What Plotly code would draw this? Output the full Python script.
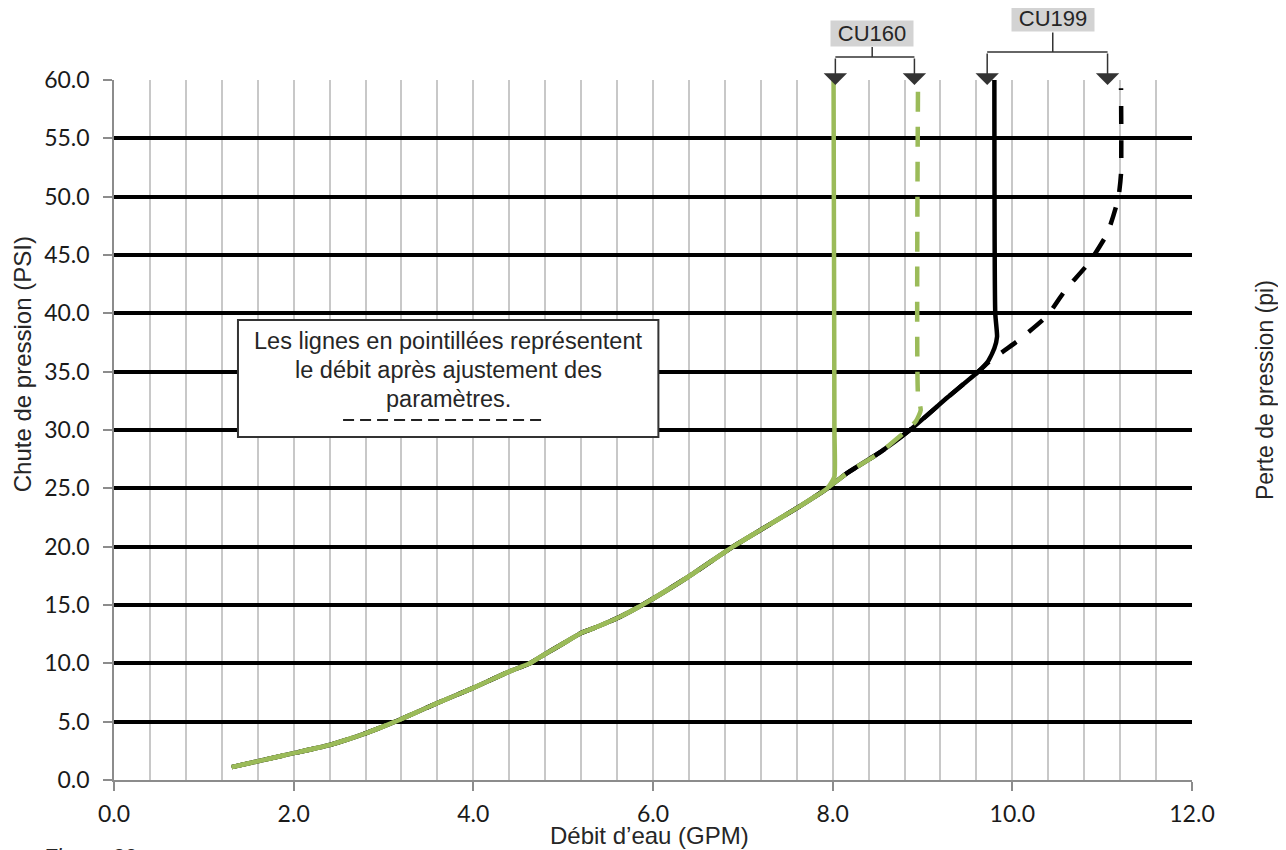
import plotly.graph_objects as go

# CU160, débit normal (trait plein vert)
cu160_x = [1.31, 2.0, 2.4, 2.8, 3.13, 3.6, 4.0, 4.4, 4.63, 4.8, 5.0, 5.2, 5.4, 5.61, 5.88,
           6.39, 6.89, 7.19, 7.6, 7.94, 7.97, 8.02, 8.02, 8.01]
cu160_y = [1.1, 2.3, 3.0, 4.0, 5.0, 6.6, 7.9, 9.3, 10.0, 10.8, 11.7, 12.6, 13.2, 13.9, 15.0,
           17.4, 20.0, 21.4, 23.3, 25.0, 25.3, 26.0, 30.0, 60.0]

# CU160, après ajustement (tirets verts)
cu160_adj_x = [1.31, 2.0, 2.4, 2.8, 3.13, 3.6, 4.0, 4.4, 4.63, 4.8, 5.0, 5.2, 5.4, 5.61, 5.88,
               6.39, 6.89, 7.19, 7.6, 7.94, 8.16, 8.53, 8.83, 8.93, 8.98, 8.95, 8.95]
cu160_adj_y = [1.1, 2.3, 3.0, 4.0, 5.0, 6.6, 7.9, 9.3, 10.0, 10.8, 11.7, 12.6, 13.2, 13.9, 15.0,
               17.4, 20.0, 21.4, 23.3, 25.0, 26.3, 28.1, 30.0, 30.8, 31.7, 33.0, 59.8]

# CU199, débit normal (trait plein noir)
cu199_x = [1.31, 2.0, 2.4, 2.8, 3.13, 3.6, 4.0, 4.4, 4.63, 4.8, 5.0, 5.2, 5.4, 5.61, 5.88,
           6.39, 6.89, 7.19, 7.6, 7.94, 8.16, 8.53, 8.86, 9.28, 9.62, 9.73, 9.80, 9.83, 9.81, 9.80]
cu199_y = [1.1, 2.3, 3.0, 4.0, 5.0, 6.6, 7.9, 9.3, 10.0, 10.8, 11.7, 12.6, 13.2, 13.9, 15.0,
           17.4, 20.0, 21.4, 23.3, 25.0, 26.3, 28.1, 30.0, 32.8, 35.0, 35.9, 37.0, 38.0, 40.0, 60.0]

# CU199, après ajustement (tirets noirs)
cu199_adj_x = [1.31, 2.0, 2.4, 2.8, 3.13, 3.6, 4.0, 4.4, 4.63, 4.8, 5.0, 5.2, 5.4, 5.61, 5.88,
               6.39, 6.89, 7.19, 7.6, 7.94, 8.16, 8.53, 8.86, 9.28, 9.62, 9.75, 10.07, 10.39,
               10.59, 10.85, 11.06, 11.18, 11.21, 11.21]
cu199_adj_y = [1.1, 2.3, 3.0, 4.0, 5.0, 6.6, 7.9, 9.3, 10.0, 10.8, 11.7, 12.6, 13.2, 13.9, 15.0,
               17.4, 20.0, 21.4, 23.3, 25.0, 26.3, 28.1, 30.0, 32.8, 35.0, 35.9, 37.7, 39.8,
               42.0, 44.3, 46.9, 49.9, 52.0, 59.3]

x_ticks = [0, 2, 4, 6, 8, 10, 12]
y_ticks = [0, 5, 10, 15, 20, 25, 30, 35, 40, 45, 50, 55, 60]
y2_ticks = [0, 20, 40, 60, 80, 100, 120]
PSI_TO_FT = 2.31

note_lines = ["Les lignes en pointillées représentent", "le débit après ajustement des", "paramètres."]

GREEN = "#9BBB59"
TXT = "#262626"
AXIS = "#8C8C8C"
FONT = "Liberation Sans, Arial, sans-serif"
TICKFONT = dict(family="Lato, sans-serif", size=23, color="#1a1a1a")
PLOT_H = 700  # hauteur de la zone de tracé en px

fig = go.Figure()


def courbe(xs, ys, name, color, dash="solid"):
    fig.add_trace(go.Scatter(x=xs, y=ys, mode="lines", name=name,
                             line=dict(color=color, width=4.5, dash=dash,
                                       shape="spline", smoothing=0.5)))


courbe(cu199_x, cu199_y, "CU199", "black")
courbe(cu199_adj_x, cu199_adj_y, "CU199 ajusté", "black", "18px,16px")
courbe(cu160_adj_x, cu160_adj_y, "CU160 ajusté", GREEN, "20px,15px")
courbe(cu160_x, cu160_y, "CU160", GREEN)

# encadré explicatif
fig.add_shape(type="rect", x0=1.38, x1=6.06, y0=29.4, y1=39.43,
              line=dict(color="#333", width=2), fillcolor="white")
fig.add_shape(type="line", x0=2.55, x1=4.8, y0=30.85, y1=30.85,
              line=dict(color="#222", width=2, dash="11px,6px"))
for txt, yv in zip(note_lines, [37.6, 35.15, 32.7]):
    fig.add_annotation(x=3.72, y=yv, showarrow=False, text=txt,
                       font=dict(family=FONT, size=23.5, color=TXT))


# accolades CU160 / CU199 au-dessus du graphique
def bracket(label, xa, xb, xlab, y_br, y_lab):
    fig.add_shape(type="line", xref="x", yref="paper", x0=xa, x1=xb, y0=y_br, y1=y_br,
                  line=dict(color="#333", width=1.5))
    fig.add_shape(type="line", xref="x", yref="paper", x0=xlab, x1=xlab, y0=y_br, y1=y_lab,
                  line=dict(color="#333", width=1.5))
    tip = 0.993
    for xv in (xa, xb):
        fig.add_annotation(x=xv, y=tip, xref="x", yref="paper", ax=0, ay=-(y_br - tip) * PLOT_H,
                           text="", showarrow=True,
                           arrowhead=1, arrowsize=2.6, arrowwidth=1.5, arrowcolor="#333")
    fig.add_annotation(x=xlab, y=y_lab, xref="x", yref="paper", text=label, showarrow=False,
                       xanchor="center", yanchor="bottom", bgcolor="#D3D3D3",
                       width=82, height=25, borderpad=0,
                       font=dict(family=FONT, size=22, color=TXT))


bracket("CU160", 8.03, 8.91, 8.44, 1.033, 1.047)
bracket("CU199", 9.72, 11.06, 10.45, 1.040, 1.068)

# titres des axes
fig.add_annotation(x=-0.0853, y=0.594, xref="paper", yref="paper", text="Chute de pression (PSI)",
                   textangle=-90, showarrow=False, xanchor="center", yanchor="middle",
                   font=dict(family=FONT, size=24, color=TXT))
fig.add_annotation(x=1.0677, y=0.557, xref="paper", yref="paper", text="Perte de pression (pi)",
                   textangle=-90, showarrow=False, xanchor="center", yanchor="middle",
                   font=dict(family=FONT, size=23, color=TXT))
fig.add_annotation(x=0.497, y=-0.079, xref="paper", yref="paper", text="Débit d’eau (GPM)",
                   showarrow=False, xanchor="center", yanchor="middle",
                   font=dict(family=FONT, size=24, color=TXT))
fig.add_annotation(x=-0.068, y=-0.089, xref="paper", yref="paper", text="<i>Figure 32</i>",
                   showarrow=False, xanchor="left", yanchor="top",
                   font=dict(family=FONT, size=22, color=TXT))

# la page HTML ajoute 8 px de marge autour de la figure
fig.update_layout(
    width=1286, height=850,
    margin=dict(l=106, r=102, t=72, b=78),
    plot_bgcolor="white", paper_bgcolor="white",
    showlegend=False,
    xaxis=dict(range=[0, 12], tickvals=x_ticks, tickformat=".1f",
               showgrid=True, gridcolor="#C8C8C8", gridwidth=1.5,
               minor=dict(dtick=0.4, showgrid=True, gridcolor="#C8C8C8", gridwidth=1.5),
               showline=True, linecolor=AXIS, linewidth=1.5,
               ticks="outside", ticklen=9, tickcolor=AXIS, tickwidth=1.5,
               ticklabelstandoff=4, tickfont=TICKFONT, zeroline=False),
    yaxis=dict(range=[0, 60], tickvals=y_ticks, tickformat=".1f",
               showgrid=True, gridcolor="black", gridwidth=4,
               showline=True, linecolor=AXIS, linewidth=1.5,
               ticks="outside", ticklen=9, tickcolor=AXIS, tickwidth=1.5,
               ticklabelstandoff=9, tickfont=TICKFONT, zeroline=False),
    yaxis2=dict(range=[0, 60 * PSI_TO_FT], tickvals=y2_ticks, overlaying="y", side="right",
                showgrid=False, showline=True, linecolor=AXIS, linewidth=1.5,
                ticks="outside", ticklen=8, tickcolor=AXIS, tickwidth=1.5,
                ticklabelstandoff=10, tickfont=TICKFONT, zeroline=False),
)

fig.write_html("out.html")
